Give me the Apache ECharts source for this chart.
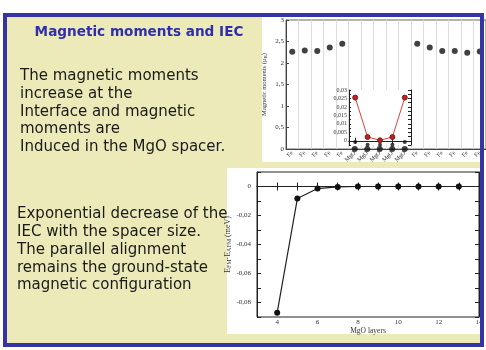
<!DOCTYPE html>
<html><head><meta charset="utf-8">
<script src="https://cdn.jsdelivr.net/npm/echarts@6/dist/echarts.min.js"></script>
<style>html,body{margin:0;padding:0;background:#fff}#c{width:486px;height:350px}</style>
</head><body><div id="c"></div>
<script>
// ---- data ----
const momentCategories = ['Fe','Fe','Fe','Fe','Fe','MgO','MgO','MgO','MgO','MgO','Fe','Fe','Fe','Fe','Fe','Fe'];
const momentValues = [2.26,2.29,2.28,2.36,2.45,0,0,0,0,0,2.45,2.36,2.28,2.28,2.24,2.27];
const insetCategories = ['MgO','MgO','MgO','MgO','MgO'];
const insetRed = [0.0255,0.0022,0.0003,0.0022,0.0255];
const insetBlack = [-0.0008,-0.0024,-0.0024,-0.0024,-0.0008];
const iecLayers = [4,5,6,7,8,9,10,11,12,13];
const iecValues = [-0.087,-0.0083,-0.0014,-0.0003,0,0,0,0,0,0];
const titleText = 'Magnetic moments and IEC';
const text1 = ['The magnetic moments','increase at the','Interface and magnetic','moments are','Induced in the MgO spacer.'];
const text2 = ['Exponential decrease of the','IEC with the spacer size.','The parallel alignment','remains the ground-state','magnetic configuration'];

const SERIF = 'Liberation Serif';
const comma = v => String(v).replace('.', ',');

const chart = echarts.init(document.getElementById('c'), null, {renderer: 'canvas'});

const graphics = [
  {type:'rect', z:-2, shape:{x:5,y:15,width:477,height:330}, style:{fill:'#EDEAB9'}},
  {type:'rect', z:-1, shape:{x:262,y:17,width:222,height:145}, style:{fill:'#ffffff'}},
  {type:'rect', z:-1, shape:{x:227,y:168,width:253,height:166}, style:{fill:'#ffffff'}},
  {type:'rect', z:5, shape:{x:349,y:90,width:62,height:55}, style:{fill:'#ffffff'}},
  {type:'text', z:1, x:139, y:32, style:{text:titleText, font:'bold 13.6px "DejaVu Sans"', fill:'#2f2fae', align:'center', verticalAlign:'middle'}},
  {type:'rect', z:20, shape:{x:5,y:15,width:477,height:330}, style:{fill:null, stroke:'#3434a4', lineWidth:4}}
];
const lineY1 = [76, 94, 112, 129.5, 147];
text1.forEach((t, i) => graphics.push({type:'text', z:1, x:20, y:lineY1[i], style:{text:t, font:'15px "DejaVu Sans"', fill:'#1a1a1a', verticalAlign:'middle'}}));
const lineY2 = [214, 232, 250, 268, 285];
text2.forEach((t, i) => graphics.push({type:'text', z:1, x:17, y:lineY2[i], style:{text:t, font:'15px "DejaVu Sans"', fill:'#1a1a1a', verticalAlign:'middle'}}));

const axLine = c => ({show:true, lineStyle:{color:c||'#222', width:1}});
const lab = (fs) => ({fontFamily:SERIF, fontSize:fs, color:'#333'});

const option = {
  animation:false,
  backgroundColor:'#ffffff',
  graphic: graphics,
  grid:[
    {left:286, top:20, width:200, height:129, show:true, borderColor:'#666', borderWidth:1, backgroundColor:'transparent', z:2},
    {left:349, top:90, width:62, height:55, show:false, z:6},
    {left:257, top:172, width:222, height:145, show:true, borderColor:'#222', borderWidth:1, backgroundColor:'transparent', z:2}
  ],
  xAxis:[
    {gridIndex:0, type:'category', data:momentCategories, boundaryGap:true, z:2,
     axisLine:axLine('#444'), axisTick:{show:false},
     axisLabel:Object.assign({interval:0, rotate:45, margin:3}, lab(6)),
     splitLine:{show:true, lineStyle:{color:'#dcdcdc', width:1}}},
    {gridIndex:1, type:'category', data:insetCategories, boundaryGap:true, z:6,
     axisLine:axLine(), axisTick:{show:true, inside:true, alignWithLabel:true, length:3, lineStyle:{color:'#222'}},
     axisLabel:{show:false}, splitLine:{show:false}},
    {gridIndex:1, type:'category', position:'top', data:insetCategories, boundaryGap:true, z:6,
     axisLine:axLine(), axisTick:{show:true, inside:true, alignWithLabel:true, length:3, lineStyle:{color:'#222'}},
     axisLabel:{show:false}, splitLine:{show:false}},
    {gridIndex:2, type:'value', min:3, max:14, interval:1, z:2,
     axisLine:axLine(), axisTick:{show:true, inside:true, length:4, lineStyle:{color:'#222'}},
     axisLabel:Object.assign({margin:2, formatter:v => (v % 2 === 0 ? String(v) : '')}, lab(7)),
     splitLine:{show:false},
     name:'MgO layers', nameLocation:'middle', nameGap:10, nameTextStyle:lab(7.5)},
    {gridIndex:2, type:'value', position:'top', min:3, max:14, interval:1, z:2,
     axisLine:axLine(), axisTick:{show:true, inside:true, length:4, lineStyle:{color:'#222'}},
     axisLabel:{show:false}, splitLine:{show:false}}
  ],
  yAxis:[
    {gridIndex:0, type:'value', min:0, max:3, interval:0.5, z:2,
     axisLine:axLine('#444'), axisTick:{show:true, inside:true, length:3, lineStyle:{color:'#444'}},
     axisLabel:Object.assign({margin:2, formatter:comma}, lab(7)),
     splitLine:{show:false},
     name:'{a|Magnetic moments (μ}{b|B}{a|)}', nameLocation:'middle', nameGap:18, nameRotate:90,
     nameTextStyle:{rich:{a:{fontFamily:SERIF, fontSize:6.5, color:'#333'}, b:{fontFamily:SERIF, fontSize:5, color:'#333', verticalAlign:'bottom', padding:[3,0,0,0]}}}},
    {gridIndex:1, type:'value', min:-0.0025, max:0.03, interval:0.0025, z:6,
     axisLine:axLine(), axisTick:{show:true, inside:true, length:2, lineStyle:{color:'#222'}},
     axisLabel:Object.assign({margin:2, formatter:v => { const r = Math.round(v*10000); if (r < 0 || r % 50 !== 0) return ''; if (r === 0) return '0'; return comma(r/10000); }}, lab(6)),
     splitLine:{show:false}},
    {gridIndex:1, type:'value', position:'right', min:-0.0025, max:0.03, interval:0.0025, z:6,
     axisLine:axLine(), axisTick:{show:true, inside:true, length:3, lineStyle:{color:'#222'}},
     axisLabel:{show:false}, splitLine:{show:false}},
    {gridIndex:2, type:'value', min:-0.09, max:0.01, interval:0.01, z:2,
     axisLine:axLine(), axisTick:{show:true, inside:true, length:4, lineStyle:{color:'#222'}},
     axisLabel:Object.assign({margin:6, formatter:v => { const r = Math.round(v*100); if (r % 2 !== 0) return ''; if (r === 0) return '0'; return comma((r/100).toFixed(2)); }}, lab(7)),
     splitLine:{show:false},
     name:'{a|E}{b|FM}{a|-E}{b|AFM}{a| (meV)}', nameLocation:'middle', nameGap:23, nameRotate:90,
     nameTextStyle:{rich:{a:{fontFamily:SERIF, fontSize:8, color:'#333'}, b:{fontFamily:SERIF, fontSize:6, color:'#333', verticalAlign:'bottom', padding:[4,0,0,0]}}}},
    {gridIndex:2, type:'value', position:'right', min:-0.09, max:0.01, interval:0.01, z:2,
     axisLine:axLine(), axisTick:{show:true, inside:true, length:4, lineStyle:{color:'#222'}},
     axisLabel:{show:false}, splitLine:{show:false}}
  ],
  series:[
    {type:'scatter', xAxisIndex:0, yAxisIndex:0, z:3, data:momentValues, symbol:'circle', symbolSize:6,
     itemStyle:{color:'#111'}},
    {type:'line', xAxisIndex:1, yAxisIndex:1, z:8, data:insetRed, symbol:'circle', symbolSize:5,
     lineStyle:{color:'#e04040', width:1}, itemStyle:{color:'#c81e1e', borderColor:'#551111', borderWidth:0.8}},
    {type:'scatter', xAxisIndex:1, yAxisIndex:1, z:7, data:insetBlack, symbol:'circle', symbolSize:4,
     itemStyle:{color:'#111'}},
    {type:'line', xAxisIndex:3, yAxisIndex:3, z:3, data:iecLayers.map((x, i) => [x, iecValues[i]]),
     symbol:'circle', symbolSize:6, lineStyle:{color:'#222', width:1.2}, itemStyle:{color:'#111'}}
  ]
};
chart.setOption(option);
</script></body></html>
